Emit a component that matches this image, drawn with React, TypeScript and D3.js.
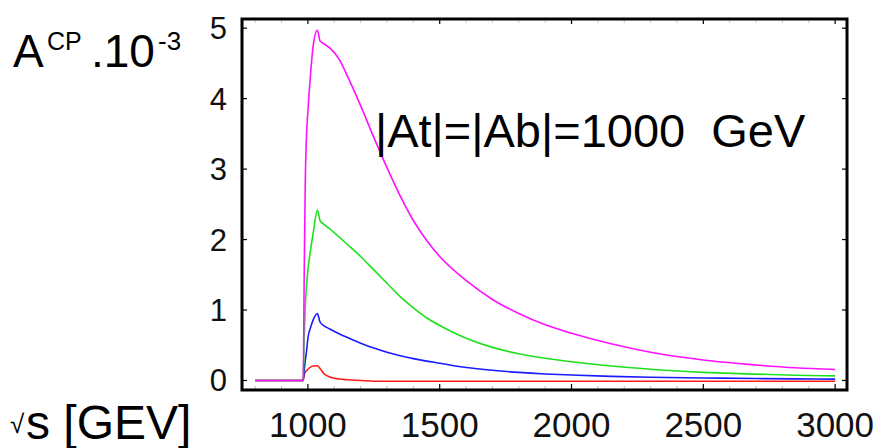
import React, { useEffect, useRef } from "react";
import * as d3 from "d3";

// sqrt(s) grid in GeV
const energies = [800, 880, 982, 986, 990, 995, 1000, 1010, 1020, 1036, 1046, 1060, 1083, 1120, 1150, 1200, 1250, 1300, 1350, 1400, 1450, 1500, 1600, 1700, 1800, 1900, 2000, 2150, 2300, 2500, 2700, 2850, 3000];

// A_CP x 10^-3 for four curves
const magentaSeries = [0, 0, 0, 1.5, 2.8, 3.5, 3.82, 4.35, 4.75, 4.97, 4.82, 4.78, 4.72, 4.55, 4.32, 3.9, 3.45, 3.02, 2.62, 2.27, 1.99, 1.76, 1.42, 1.15, 0.95, 0.79, 0.67, 0.52, 0.4, 0.29, 0.22, 0.18, 0.155];
const greenSeries = [0, 0, 0, 0.6, 1.05, 1.35, 1.57, 1.85, 2.09, 2.42, 2.27, 2.22, 2.15, 2.03, 1.93, 1.76, 1.57, 1.38, 1.19, 1.03, 0.89, 0.78, 0.6, 0.47, 0.38, 0.315, 0.265, 0.205, 0.16, 0.115, 0.09, 0.075, 0.065];
const blueSeries = [0, 0, 0, 0.15, 0.28, 0.42, 0.6, 0.75, 0.86, 0.95, 0.83, 0.78, 0.73, 0.66, 0.61, 0.53, 0.46, 0.4, 0.35, 0.31, 0.275, 0.245, 0.185, 0.145, 0.115, 0.093, 0.077, 0.058, 0.046, 0.036, 0.028, 0.023, 0.02];
const redSeries = [0, 0, 0, 0.08, 0.12, 0.14, 0.16, 0.19, 0.205, 0.21, 0.17, 0.1, 0.05, 0.02, 0.01, 0, -0.01, -0.01, -0.01, -0.01, -0.01, -0.01, -0.01, -0.01, -0.01, -0.01, -0.01, -0.01, -0.01, -0.01, -0.01, -0.01, -0.01];

const seriesList = [
  { name: "red", values: redSeries, color: "#ff1a1a" },
  { name: "blue", values: blueSeries, color: "#1a1aff" },
  { name: "green", values: greenSeries, color: "#1ee01e" },
  { name: "magenta", values: magentaSeries, color: "#ff10ff" },
];

const xTicks = [1000, 1500, 2000, 2500, 3000];
const yTicks = [0, 1, 2, 3, 4, 5];

export default function App() {
  const ref = useRef<SVGSVGElement>(null);

  useEffect(() => {
    const svg = d3.select(ref.current);
    svg.selectAll("*").remove();

    const x = d3.scaleLinear().domain([750, 3045]).range([242, 847]);
    const y = d3.scaleLinear().domain([-0.135, 5.13]).range([390, 19]);
    const font = "'Liberation Sans', Arial, sans-serif";

    // minor ticks
    const minor = d3.range(800, 3001, 100).filter((v) => !xTicks.includes(v));
    const g = svg.append("g");
    minor.forEach((v) => {
      g.append("line").attr("x1", x(v)).attr("x2", x(v)).attr("y1", 390).attr("y2", 386).attr("stroke", "#bbb").attr("stroke-width", 1);
      g.append("line").attr("x1", x(v)).attr("x2", x(v)).attr("y1", 19).attr("y2", 23).attr("stroke", "#ccc").attr("stroke-width", 1);
    });
    xTicks.forEach((v) => {
      g.append("line").attr("x1", x(v)).attr("x2", x(v)).attr("y1", 390).attr("y2", 384).attr("stroke", "#000").attr("stroke-width", 1.2);
      g.append("line").attr("x1", x(v)).attr("x2", x(v)).attr("y1", 19).attr("y2", 24).attr("stroke", "#000").attr("stroke-width", 1.2);
      g.append("text").attr("x", x(v)).attr("y", 437).attr("text-anchor", "middle")
        .attr("font-family", font).attr("font-size", 35).attr("fill", "#111").text(String(v));
    });
    yTicks.forEach((v) => {
      g.append("line").attr("x1", 242).attr("x2", 247).attr("y1", y(v)).attr("y2", y(v)).attr("stroke", "#000").attr("stroke-width", 1.2);
      g.append("line").attr("x1", 847).attr("x2", 842).attr("y1", y(v)).attr("y2", y(v)).attr("stroke", "#000").attr("stroke-width", 1.2);
      g.append("text").attr("x", 227).attr("y", y(v) + 11).attr("text-anchor", "end")
        .attr("font-family", font).attr("font-size", 31).attr("fill", "#111").text(String(v));
    });

    const line = d3.line<number>()
      .x((_, i) => x(energies[i]))
      .y((d) => y(d))
      .curve(d3.curveMonotoneX);

    seriesList.forEach((s) => {
      svg.append("path").attr("d", line(s.values) as string).attr("fill", "none")
        .attr("stroke", s.color).attr("stroke-width", 1.6).attr("stroke-linejoin", "round");
    });

    // frame
    svg.append("rect").attr("x", 242).attr("y", 19).attr("width", 605).attr("height", 371)
      .attr("fill", "none").attr("stroke", "#000").attr("stroke-width", 3);

    // annotation
    svg.append("text").attr("x", 375).attr("y", 147).attr("font-family", font).attr("font-size", 47)
      .attr("fill", "#000").style("white-space", "pre").text("|At|=|Ab|=1000  GeV");

    // y label
    const yl = svg.append("g").attr("font-family", font).attr("fill", "#000");
    yl.append("text").attr("x", 13).attr("y", 67).attr("font-size", 46).text("A");
    yl.append("text").attr("x", 47).attr("y", 50).attr("font-size", 25).text("CP");
    yl.append("text").attr("x", 91).attr("y", 67).attr("font-size", 46).text(".10");
    yl.append("text").attr("x", 158).attr("y", 50).attr("font-size", 26).text("-3");

    // x label
    const xl = svg.append("g").attr("font-family", font).attr("fill", "#000");
    xl.append("text").attr("x", 10).attr("y", 433).attr("font-size", 26).text("√");
    xl.append("text").attr("x", 26).attr("y", 439).attr("font-size", 48).style("white-space", "pre").text("s [GEV]");
  }, []);

  return (
    <svg ref={ref} width={874} height={448} style={{ position: "absolute", left: 0, top: 0, background: "#fff" }} />
  );
}
